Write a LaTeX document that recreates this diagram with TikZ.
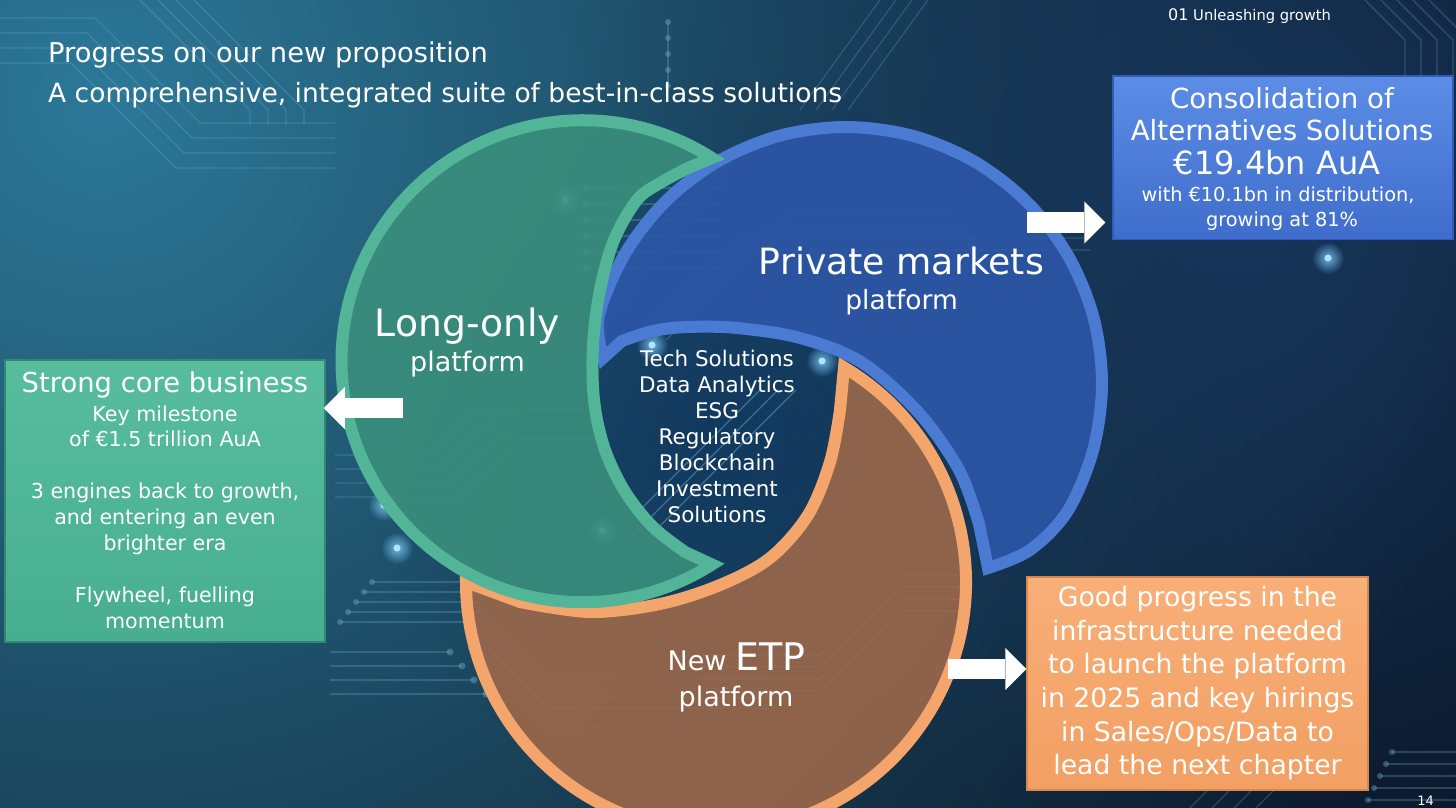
\documentclass[tikz,border=0pt]{standalone}
\usepackage{fontspec}
\setmainfont{DejaVu Sans}
\usetikzlibrary{arrows.meta,fadings}
\tikzfading[name=glowfade, inner color=transparent!0, outer color=transparent!100]
\definecolor{bgbase}{HTML}{0B1727}
\definecolor{bgglow}{HTML}{2C7898}
\definecolor{bgmid}{HTML}{123A60}
\definecolor{bgnavy}{HTML}{17355A}
\definecolor{tracecol}{HTML}{6FB2D6}
\definecolor{glowcol}{HTML}{7FD0FF}
\definecolor{tealfill}{HTML}{3A8F7C}
\definecolor{tealline}{HTML}{52B597}
\definecolor{bluefill}{HTML}{2D57A8}
\definecolor{blueline}{HTML}{4A7AD2}
\definecolor{orfill}{HTML}{9C684A}
\definecolor{orline}{HTML}{F4A56C}
\definecolor{tealboxtop}{HTML}{58BD9F}
\definecolor{tealboxbot}{HTML}{47AE8F}
\definecolor{tealboxedge}{HTML}{2F8A6E}
\definecolor{blueboxtop}{HTML}{5B8DE6}
\definecolor{blueboxbot}{HTML}{3F6DCB}
\definecolor{blueboxedge}{HTML}{2E5CB8}
\definecolor{orboxtop}{HTML}{F8AF78}
\definecolor{orboxbot}{HTML}{F29F62}
\definecolor{orboxedge}{HTML}{D9874C}
\newcommand{\fsz}[1]{\fontsize{#1}{#1}\selectfont}
\begin{document}
\begin{tikzpicture}[x=1pt,y=-1pt,
  txt/.style={text=white, inner sep=0pt, anchor=base},
  crescent/.style={line width=12pt, line join=miter, miter limit=4, fill opacity=0.9},
  infobox/.style={rectangle, inner sep=0pt, line width=1.5pt},
  bigarrow/.style={draw=white, line width=20.5pt, -{Triangle[length=21pt,width=42pt,line width=0pt]}},
  trace/.style={draw=tracecol, line width=1.1pt, opacity=0.28},
  tracedot/.style={fill=tracecol, opacity=0.4},
  glowdot/.style={fill=glowcol, path fading=glowfade, opacity=0.8},
]
\useasboundingbox (0,0) rectangle (1456,808);
\begin{scope}
\clip (0,0) rectangle (1456,808);
% background
\fill[bgbase] (0,0) rectangle (1456,808);
\shade[inner color=bgglow, outer color=bgbase] (100,100) circle (1400);
\fill[bgnavy, path fading=glowfade] (1250,220) circle (700);
\fill[bgmid, path fading=glowfade] (720,440) circle (360);

% circuit traces
\foreach \i in {0,...,3}
  \draw[trace] (0,{18+15*\i}) -- ({95-8*\i},{18+15*\i}) -- ({200-8*\i},{123+15*\i}) -- (335,{123+15*\i});
\foreach \i in {0,...,3}
  \draw[trace] ({140+18*\i},0) -- ({250+18*\i},110) -- ({250+18*\i},125);
\draw[trace] (668,22) -- (668,86);
\foreach \i in {0,...,4} \fill[tracedot] (668,{22+16*\i}) circle (3);
\foreach \i in {0,...,3} \draw[trace] ({880+16*\i},0) -- ({800+16*\i},110);
\foreach \i in {0,...,4}
  \draw[trace] ({1365+16*\i},0) -- ({1405+16*\i},40) -- ({1405+16*\i},76);
\foreach \i in {0,...,4} {
  \draw[trace] ({372-8*\i},{582+10*\i}) -- (480,{582+10*\i});
  \fill[tracedot] ({372-8*\i},{582+10*\i}) circle (3);
}
\foreach \i in {0,...,3} {
  \draw[trace] (330,{652+14*\i}) -- ({450+12*\i},{652+14*\i});
  \fill[tracedot] ({450+12*\i},{652+14*\i}) circle (3.5);
}
\foreach \i in {0,...,4} {
  \draw[trace] ({1392-6*\i},{752+12*\i}) -- (1456,{752+12*\i});
  \fill[tracedot] ({1392-6*\i},{752+12*\i}) circle (3);
}
\foreach \i in {0,...,3} \draw[trace] ({1190+22*\i},808) -- ({1230+22*\i},768);
\foreach \i in {0,...,5} {
  \fill[tracedot] (586,{188+16*\i}) circle (3.5);
  \draw[trace] (586,{188+16*\i}) -- (720,{188+16*\i});
}
\foreach \i in {0,...,3}
  \draw[trace] (335,{455+14*\i}) -- ({430+10*\i},{455+14*\i}) -- ({475+10*\i},{410+14*\i}) -- (590,{410+14*\i});
\foreach \i in {0,...,5}
  \draw[trace, opacity=0.4] (468,{598+10*\i}) -- (548,{678+10*\i}) -- (770,{678+10*\i});
\foreach \i in {0,...,3}
  \draw[trace, opacity=0.4] (960,{575+12*\i}) -- (900,{575+12*\i}) -- (820,{655+12*\i}) -- (700,{655+12*\i});
\foreach \i in {0,...,3}
  \draw[trace] ({630+12*\i},340) -- ({720+24*\i},{250-12*\i}) -- (1090,{250-12*\i});
\foreach \i in {0,...,2}
  \draw[trace, opacity=0.45] ({610+18*\i},540) -- ({760+18*\i},390);

% glow dots
\foreach \p in {(822,361),(397,548),(384,505),(565,200),(602,530),(1328,258),(652,345)} {
  \fill[glowdot] \p circle (16);
  \fill[glowcol!60!white] \p circle (3.5);
}

% crescents
\path[crescent, draw=orline, fill=orfill]
  (844,367.3) arc[start angle=-59.2, end angle=180, radius=250]
  -- plot[smooth, tension=0.55] coordinates {(520,602) (590,612) (660,604) (720,585) (770,558) (808,515) (830,462) (840,410)}
  -- cycle;
\path[crescent, draw=blueline, fill=bluefill]
  plot[smooth, tension=0.55] coordinates {(603,358) (598.7,316.7) (624.3,255) (665,202) (718,161.3) (779.7,135.7) (846,127) (912.3,135.7) (974,161.3) (1027,202) (1067.7,255) (1093.3,316.7) (1102,383) (1093.3,449.3) (1067.7,511) (1030,550) (988,568)}
  -- plot[smooth, tension=0.55] coordinates {(979,524) (959,470) (918,412) (861,362) (800,338) (737,328) (687,327) (653,331) (622,341)}
  -- cycle;
\path[crescent, draw=tealline, fill=tealfill]
  (712,158) arc[start angle=-57.5, end angle=-302.5, radius=241]
  -- plot[smooth, tension=0.55] coordinates {(685,552) (652,526) (624,490) (604,447) (594,400) (593,345) (600,290) (614,240) (637,200) (660,183) (688,168)}
  -- cycle;

% boxes
\node[infobox, draw=tealboxedge, top color=tealboxtop, bottom color=tealboxbot,
      minimum width=320pt, minimum height=282pt] (tealbox) at (165,501) {};
\node[infobox, draw=blueboxedge, top color=blueboxtop, bottom color=blueboxbot,
      minimum width=340pt, minimum height=163.5pt] (bluebox) at (1283,157.75) {};
\node[infobox, draw=orboxedge, top color=orboxtop, bottom color=orboxbot,
      minimum width=341pt, minimum height=213pt] (orbox) at (1197.5,683.5) {};

% arrows
\coordinate (lotail) at (403,408);
\coordinate (pmtail) at (1027,222.5);
\coordinate (ettail) at (948,669);
\draw[bigarrow, shorten >=-2pt] (lotail) -- (lotail -| tealbox.east);
\draw[bigarrow, shorten >=7pt] (pmtail) -- (pmtail -| bluebox.west);
\draw[bigarrow] (ettail) -- (ettail -| orbox.west);

% titles
\node[txt, font=\fsz{27.3}, anchor=base west] (title1) at (48,63) {Progress on our new proposition};
\node[txt, font=\fsz{26.5}, anchor=base west] (title2) at (48,102) {A comprehensive, integrated suite of best-in-class solutions};
\node[txt, anchor=base west] (section) at (1168,21) {\fsz{16}01\fsz{14.7}\ Unleashing growth};
\node[txt, font=\fsz{13}, anchor=base east] (pagenum) at (1434,805) {14};

% teal box text
\node[txt, font=\fsz{27.4}] (tb1) at (165,392.7) {Strong core business};
\node[txt, font=\fsz{20.6}] (tb2) at (165,421.5) {Key milestone};
\node[txt, font=\fsz{20.6}] (tb3) at (165,446.5) {of €1.5 trillion AuA};
\node[txt, font=\fsz{20.6}] (tb4) at (165,498.3) {3 engines back to growth,};
\node[txt, font=\fsz{20.6}] (tb5) at (165,524.5) {and entering an even};
\node[txt, font=\fsz{20.6}] (tb6) at (165,550) {brighter era};
\node[txt, font=\fsz{20.6}] (tb7) at (165,602.7) {Flywheel, fuelling};
\node[txt, font=\fsz{20.6}] (tb8) at (165,628.3) {momentum};

% blue box text
\node[txt, font=\fsz{27.7}] (bb1) at (1282,108.3) {Consolidation of};
\node[txt, font=\fsz{27.7}] (bb2) at (1282,140) {Alternatives Solutions};
\node[txt, font=\fsz{32}] (bb3) at (1277,174.5) {€19.4bn AuA};
\node[txt, font=\fsz{19.3}] (bb4) at (1278,201.7) {with €10.1bn in distribution,};
\node[txt, font=\fsz{19.3}] (bb5) at (1282,226.7) {growing at 81\%};

% orange box text
\foreach \t [count=\i] in {Good progress in the,infrastructure needed,to launch the platform,in 2025 and key hirings,in Sales/Ops/Data to,lead the next chapter}
  \node[txt, font=\fsz{26.7}] (ob\i) at (1197.5,{606.7+33.6*(\i-1)}) {\t};

% centre text
\foreach \t [count=\i] in {Tech Solutions,Data Analytics,ESG,Regulatory,Blockchain,Investment,Solutions}
  \node[txt, font=\fsz{21.5}] (ct\i) at (717,{366+26*(\i-1)}) {\t};

% circle labels
\node[txt, font=\fsz{37.7}] (lo1) at (467.5,336.7) {Long-only};
\node[txt, font=\fsz{27}] (lo2) at (467.5,371.7) {platform};
\node[txt, font=\fsz{36.2}] (pm1) at (901.5,274.5) {Private markets};
\node[txt, font=\fsz{26.5}] (pm2) at (901.6,309) {platform};
\node[txt] (etp1) at (736.4,670) {\fsz{27}New \fsz{38}ETP};
\node[txt, font=\fsz{27}] (etp2) at (736,706.7) {platform};
\end{scope}
\end{tikzpicture}
\end{document}
